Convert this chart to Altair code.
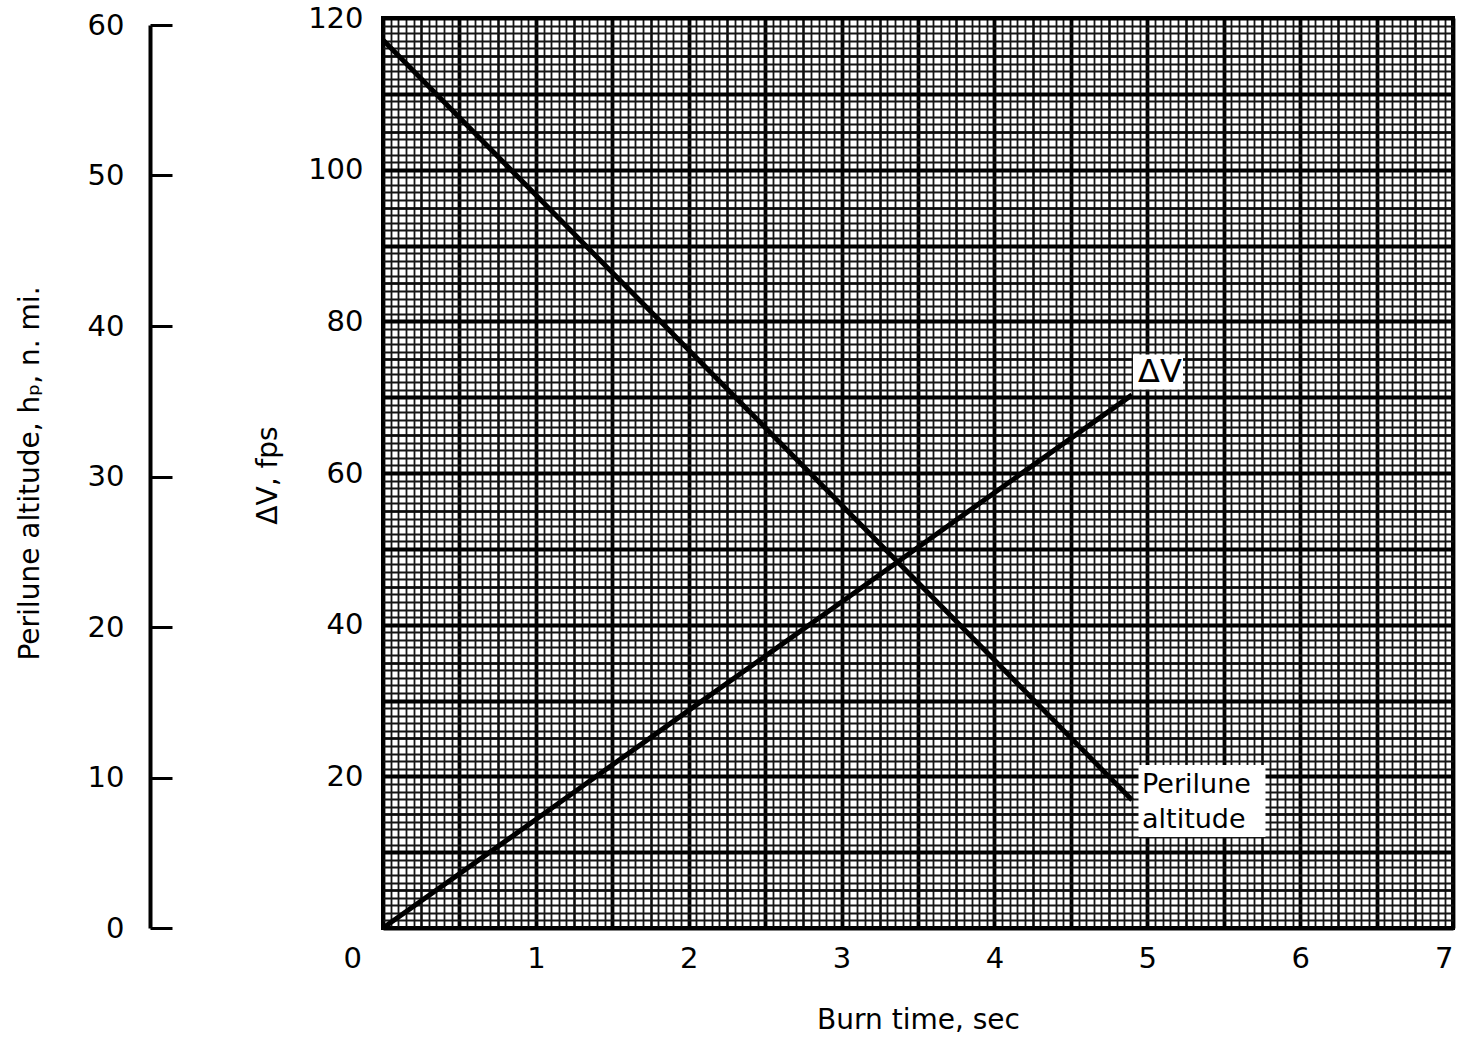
import altair as alt
import numpy as np
import pandas as pd

# ---- data ----
burn_time = [0.0, 1.0, 2.0, 3.0, 4.0, 4.9]            # sec
delta_v = [0.0, 14.3, 28.7, 43.0, 57.4, 70.3]          # fps
perilune_alt = [59.0, 48.7, 38.4, 28.1, 17.8, 8.5]     # n. mi.

x_ticks = [0, 1, 2, 3, 4, 5, 6, 7]
dv_ticks = [20, 40, 60, 80, 100, 120]
hp_ticks = [0, 10, 20, 30, 40, 50, 60]

dv_df = pd.DataFrame({"t": burn_time, "dv": delta_v})
hp_df = pd.DataFrame({"t": burn_time, "hp": perilune_alt})
dv_lab = dv_df.tail(1)
hp_lab = hp_df.tail(1)

FONT = "DejaVu Sans"
W, H = 1070, 910
LBL = 29
TTL = 28

xs = alt.Scale(domain=[0, 7], nice=False, zero=False)
ys = alt.Scale(domain=[0, 120], nice=False, zero=False)
hs = alt.Scale(domain=[0, 60], nice=False, zero=False, range=[H, 7])

fine_x = [float(v) for v in np.round(np.arange(0, 7.0001, 0.05), 2)]
med_x = [float(v) for v in np.round(np.arange(0, 7.0001, 0.25), 2)]
heavy_x = [float(v) for v in np.round(np.arange(0, 7.0001, 0.5), 2)]
fine_y = list(range(0, 121, 1))
med_y = list(range(0, 121, 5))
heavy_y = list(range(0, 121, 10))


def grid_layer(xv, yv, width, color):
    return alt.Chart(dv_df).mark_line(opacity=0).encode(
        x=alt.X("t:Q", scale=xs, title=None,
                axis=alt.Axis(values=xv, grid=True, gridColor=color, gridWidth=width,
                              gridOpacity=1, labels=False, ticks=False, domain=False,
                              orient="bottom")),
        y=alt.Y("dv:Q", scale=ys, title=None,
                axis=alt.Axis(values=yv, grid=True, gridColor=color, gridWidth=width,
                              gridOpacity=1, labels=False, ticks=False, domain=False,
                              orient="left")),
    )


g1 = grid_layer(fine_x, fine_y, 1.8, "#151515")
g2 = grid_layer(med_x, med_y, 2.3, "#0a0a0a")
g3 = grid_layer(heavy_x, heavy_y, 3.8, "#000000")

dv_line = alt.Chart(dv_df).mark_line(color="black", strokeWidth=5).encode(
    x=alt.X("t:Q", scale=xs, title="Burn time, sec",
            axis=alt.Axis(values=x_ticks, grid=False, ticks=False, domain=False,
                          orient="bottom", labelFontSize=LBL, labelFont=FONT,
                          labelColor="black", labelPadding=16,
                          labelOffset={"condition": {"test": "datum.value === 0", "value": -40}, "value": 0},
                          titleFont=FONT, titleFontSize=TTL, titleFontWeight="normal",
                          titleColor="black", titleY=100, titleBaseline="alphabetic")),
    y=alt.Y("dv:Q", scale=ys, title="ΔV, fps",
            axis=alt.Axis(values=dv_ticks, grid=False, ticks=False, domain=False,
                          orient="left", labelFontSize=LBL, labelFont=FONT,
                          labelColor="black", labelPadding=20,
                          titleFont=FONT, titleFontSize=TTL, titleFontWeight="normal",
                          titleColor="black", titleAngle=270, titleX=-115, titleY=457,
                          titleAlign="center", titleBaseline="middle")),
)

hp_line = alt.Chart(hp_df).mark_line(color="black", strokeWidth=5).encode(
    x=alt.X("t:Q", scale=xs, axis=None),
    y=alt.Y("hp:Q", scale=hs, title="Perilune altitude, hₚ, n. mi.",
            axis=alt.Axis(values=hp_ticks, grid=False, orient="right", offset=-(W + 233),
                          domain=True, domainColor="black", domainWidth=4,
                          ticks=True, tickSize=22, tickWidth=3, tickColor="black",
                          labelAlign="right", labelBaseline="middle", labelPadding=-48,
                          labelFontSize=LBL, labelFont=FONT, labelColor="black",
                          titleFont=FONT, titleFontSize=TTL, titleFontWeight="normal",
                          titleColor="black", titleAngle=270, titleX=-120, titleY=455,
                          titleAlign="center", titleBaseline="middle")),
)

# white label backgrounds (rectangle symbols anchored at line ends)
dv_box = alt.Chart(dv_lab).mark_point(
    shape="M-1,-0.7L1,-0.7L1,0.7L-1,0.7Z", size=2500, filled=True,
    color="white", opacity=1, xOffset=26, yOffset=-23, strokeWidth=0).encode(
    x=alt.X("t:Q", scale=xs, axis=None),
    y=alt.Y("dv:Q", scale=ys, axis=None))

hp_box = alt.Chart(hp_lab).mark_point(
    shape="M-1,-0.567L1,-0.567L1,0.567L-1,0.567Z", size=16129, filled=True,
    color="white", opacity=1, xOffset=70, yOffset=1, strokeWidth=0).encode(
    x=alt.X("t:Q", scale=xs, axis=None),
    y=alt.Y("hp:Q", scale=hs, axis=None))

dv_text = alt.Chart(dv_lab).mark_text(text="ΔV", align="left", baseline="middle",
                                      dx=6, dy=-23, fontSize=32, font=FONT,
                                      color="black").encode(
    x=alt.X("t:Q", scale=xs, axis=None),
    y=alt.Y("dv:Q", scale=ys, axis=None))


def hp_text(txt, dy):
    return alt.Chart(hp_lab).mark_text(text=txt, align="left", baseline="middle",
                                       dx=10, dy=dy, fontSize=27, font=FONT,
                                       color="black").encode(
        x=alt.X("t:Q", scale=xs, axis=None),
        y=alt.Y("hp:Q", scale=hs, axis=None))


chart = alt.layer(
    g1, g2, g3, dv_line, hp_line,
    dv_box, hp_box, dv_text, hp_text("Perilune", -15), hp_text("altitude", 20),
).resolve_scale(x="independent", y="independent").resolve_axis(
    x="independent", y="independent"
).properties(
    width=W, height=H,
    autosize=alt.AutoSizeParams(type="none"),
    padding={"left": 383, "top": 18, "right": 11, "bottom": 110},
    background="white",
).configure_view(stroke="black", strokeWidth=4)

chart.save("out.html", embed_options={"renderer": "svg", "actions": False})
